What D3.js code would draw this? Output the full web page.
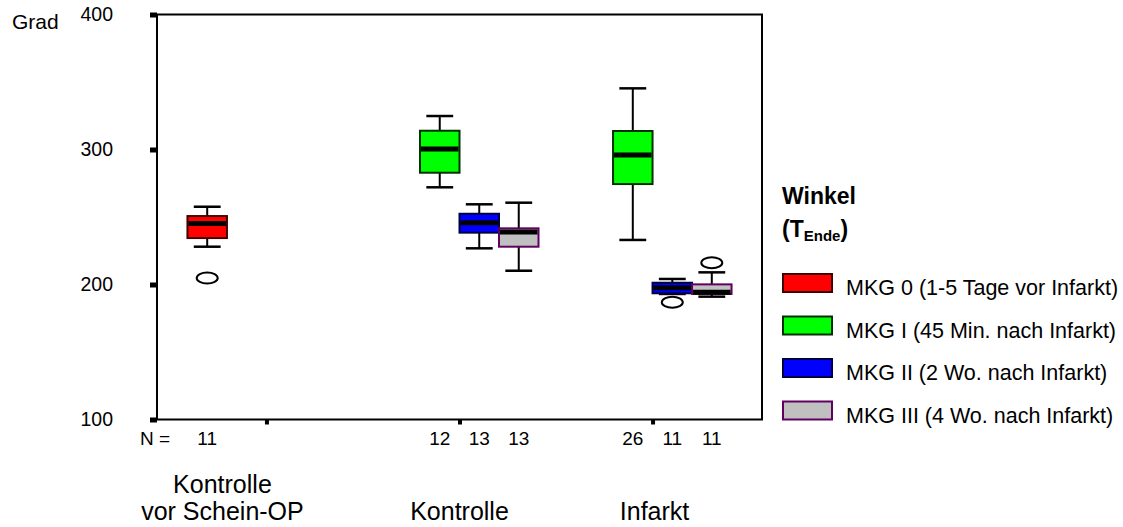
<!DOCTYPE html>
<html>
<head>
<meta charset="utf-8">
<script src="https://cdn.jsdelivr.net/npm/d3@7"></script>
<style>
  body { margin: 0; background: #fff; }
  svg { font-family: "Liberation Sans", Arial, sans-serif; }
</style>
</head>
<body>
<svg width="1123" height="527"></svg>
<script>
// categories (x groups), multi-line labels
var categoryNames = ["Kontrolle vor Schein-OP", "Kontrolle", "Infarkt"];
var categoryLines = [["Kontrolle", "vor Schein-OP"], ["Kontrolle"], ["Infarkt"]];

// series (legend)
var seriesNames = [
    "MKG 0 (1-5 Tage vor Infarkt)",
    "MKG I (45 Min. nach Infarkt)",
    "MKG II (2 Wo. nach Infarkt)",
    "MKG III (4 Wo. nach Infarkt)"
];
var seriesFill = ["#ff0000", "#00ff00", "#0000ff", "#c0c0c0"];
var seriesStroke = ["#400000", "#003000", "#000040", "#600060"];

// boxes
var boxCategory = [0, 1, 1, 1, 2, 2, 2];
var boxSeries = [0, 1, 2, 3, 1, 2, 3];
var boxN = [11, 12, 13, 13, 26, 11, 11];
var whiskerLow = [228, 272, 226.8, 210.2, 233, 193, 191];
var quart1 = [234.4, 282.8, 238.4, 228, 274.4, 193.5, 193];
var medians = [245.2, 300.4, 245.8, 238.9, 295.9, 197.6, 194.3];
var quart3 = [250.7, 313.9, 252.4, 241.6, 313.7, 201.3, 200.1];
var whiskerHigh = [257.6, 324.8, 259.4, 260.6, 345.3, 204.1, 209];
var outliers = [[204.8], [], [], [], [], [186.8], [216.1]];

var yTicks = [100, 200, 300, 400];

var svg = d3.select("svg");
var plotLeft = 157, plotRight = 762, plotTop = 14.5, plotBottom = 419.5;

var xScale = d3.scalePoint().domain(categoryNames).range([plotLeft, plotRight]).padding(0.567);
var slot = d3.scaleBand().domain(d3.range(4)).range([-79, 79]);
var yScale = d3.scaleLinear().domain([100, 400]).range([plotBottom, plotTop]);

var bw = slot.bandwidth();

var boxes = boxCategory.map((c, i) => ({
    cx: xScale(categoryNames[c]) + slot(boxSeries[i]) + bw / 2,
    s: boxSeries[i], n: boxN[i],
    lo: whiskerLow[i], q1: quart1[i], med: medians[i], q3: quart3[i], hi: whiskerHigh[i],
    out: outliers[i]
}));

// Y axis
var yAxis = svg.append("g")
    .attr("transform", "translate(" + plotLeft + ",0)")
    .call(d3.axisLeft(yScale).tickValues(yTicks).tickSize(7).tickPadding(37));
yAxis.select(".domain").remove();
yAxis.selectAll(".tick line").attr("stroke", "#000").attr("stroke-width", 5);
yAxis.selectAll(".tick text")
    .attr("font-size", 19.5)
    .attr("fill", "#000")
    .style("font-family", "'Liberation Sans', Arial, sans-serif");

// X axis ticks (no labels)
var xAxis = svg.append("g")
    .attr("transform", "translate(0," + plotBottom + ")")
    .call(d3.axisBottom(xScale).tickSize(5).tickFormat(""));
xAxis.select(".domain").remove();
xAxis.selectAll(".tick line").attr("stroke", "#000").attr("stroke-width", 4);

// Frame
svg.append("rect")
    .attr("x", plotLeft).attr("y", plotTop)
    .attr("width", plotRight - plotLeft).attr("height", plotBottom - plotTop)
    .attr("fill", "none").attr("stroke", "#000").attr("stroke-width", 2);

// "Grad"
svg.append("text").attr("x", 12).attr("y", 29)
    .attr("font-size", 21).text("Grad");

// Boxplots
var g = svg.append("g");
var capW = bw * 0.68;

boxes.forEach(d => {
    // whiskers
    g.append("line").attr("x1", d.cx).attr("x2", d.cx)
        .attr("y1", yScale(d.hi)).attr("y2", yScale(d.q3))
        .attr("stroke", "#000").attr("stroke-width", 2);
    g.append("line").attr("x1", d.cx).attr("x2", d.cx)
        .attr("y1", yScale(d.q1)).attr("y2", yScale(d.lo))
        .attr("stroke", "#000").attr("stroke-width", 2);
    [d.hi, d.lo].forEach(v => {
        g.append("line").attr("x1", d.cx - capW / 2).attr("x2", d.cx + capW / 2)
            .attr("y1", yScale(v)).attr("y2", yScale(v))
            .attr("stroke", "#000").attr("stroke-width", 2.5);
    });
});

boxes.forEach(d => {
    g.append("rect")
        .attr("x", d.cx - bw / 2).attr("width", bw)
        .attr("y", yScale(d.q3)).attr("height", yScale(d.q1) - yScale(d.q3))
        .attr("fill", seriesFill[d.s])
        .attr("stroke", seriesStroke[d.s]).attr("stroke-width", 2);
    g.append("line")
        .attr("x1", d.cx - bw / 2 + 1).attr("x2", d.cx + bw / 2 - 1)
        .attr("y1", yScale(d.med)).attr("y2", yScale(d.med))
        .attr("stroke", "#000").attr("stroke-width", 5);
    d.out.forEach(v => {
        g.append("ellipse").attr("cx", d.cx).attr("cy", yScale(v))
            .attr("rx", 10.5).attr("ry", 5.5)
            .attr("fill", "none").attr("stroke", "#000").attr("stroke-width", 2);
    });
});

// N labels
svg.append("text").attr("x", 140).attr("y", 445).attr("font-size", 19).text("N =");
svg.selectAll("text.nlab").data(boxes).join("text")
    .attr("class", "nlab")
    .attr("x", d => d.cx).attr("y", 445)
    .attr("text-anchor", "middle").attr("font-size", 19)
    .text(d => d.n);

// Category labels (first one is shifted left as in the original)
var labelShift = [-44, 0, 2];
categoryLines.forEach((lines, i) => {
    var t = svg.append("text")
        .attr("x", xScale(categoryNames[i]) + labelShift[i])
        .attr("text-anchor", "middle").attr("font-size", 25);
    var start = 520 - (lines.length - 1) * 27;
    lines.forEach((ln, j) => {
        t.append("tspan").attr("x", xScale(categoryNames[i]) + labelShift[i])
            .attr("y", start + j * 27).text(ln);
    });
});

// Legend
var legend = svg.append("g").attr("transform", "translate(782,0)");
legend.append("text").attr("x", 0).attr("y", 204)
    .attr("font-size", 23).attr("font-weight", "bold").text("Winkel");
var t2 = legend.append("text").attr("x", 0).attr("y", 237)
    .attr("font-size", 23).attr("font-weight", "bold");
t2.append("tspan").text("(T");
t2.append("tspan").attr("font-size", 15).attr("dy", 4).text("Ende");
t2.append("tspan").attr("dy", -4).text(")");

var rowY = d3.scalePoint().domain(seriesNames).range([283, 410.5]);
var rows = legend.selectAll("g.row").data(seriesNames).join("g")
    .attr("class", "row")
    .attr("transform", d => "translate(0," + rowY(d) + ")");
rows.append("rect")
    .attr("x", 1).attr("y", -9).attr("width", 49).attr("height", 18)
    .attr("fill", (d, i) => seriesFill[i])
    .attr("stroke", (d, i) => seriesStroke[i]).attr("stroke-width", 2);
rows.append("text")
    .attr("x", 64).attr("y", 12)
    .attr("font-size", 21.5)
    .text(d => d);
</script>
</body>
</html>
